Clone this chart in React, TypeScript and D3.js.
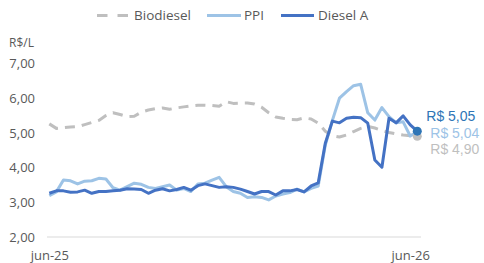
import React, { useEffect, useRef } from "react";
import * as d3 from "d3";

// weekly observations, jun-25 .. jun-26
const startDate = new Date(2025, 5, 13);
const weeks: Date[] = d3.range(53).map((i) => d3.timeDay.offset(startDate, 7 * i));

const biodiesel = [
  5.26, 5.13, 5.15, 5.17, 5.18, 5.24, 5.3, 5.36, 5.5, 5.58, 5.53, 5.47, 5.48, 5.6, 5.66, 5.7, 5.72, 5.68,
  5.72, 5.75, 5.78, 5.8, 5.8, 5.79, 5.77, 5.9, 5.85, 5.86, 5.86, 5.83, 5.74, 5.58, 5.46, 5.42, 5.39, 5.38,
  5.43, 5.4, 5.28, 5.05, 4.92, 4.88, 4.94, 5.04, 5.13, 5.19, 5.14, 5.07, 5.01, 4.97, 4.94, 4.92, 4.9,
];
const ppi = [
  3.19, 3.3, 3.64, 3.62, 3.53, 3.61, 3.62, 3.69, 3.67, 3.42, 3.35, 3.45, 3.55, 3.52, 3.43, 3.4, 3.45, 3.5,
  3.35, 3.4, 3.31, 3.53, 3.55, 3.64, 3.72, 3.45, 3.31, 3.26, 3.14, 3.16, 3.14, 3.07, 3.18, 3.24, 3.28, 3.38,
  3.3, 3.4, 3.47, 4.65, 5.36, 6.0, 6.19, 6.36, 6.4, 5.58, 5.37, 5.73, 5.47, 5.29, 5.32, 4.91, 5.04,
];
const dieselA = [
  3.26, 3.33, 3.33, 3.29, 3.3, 3.35, 3.26, 3.31, 3.31, 3.33, 3.35, 3.39, 3.38, 3.37, 3.26, 3.35, 3.39, 3.33,
  3.37, 3.43, 3.35, 3.48, 3.53, 3.48, 3.43, 3.45, 3.43, 3.38, 3.31, 3.24, 3.31, 3.31, 3.21, 3.33, 3.33, 3.37,
  3.3, 3.47, 3.56, 4.7, 5.34, 5.29, 5.42, 5.45, 5.44, 5.28, 4.22, 4.01, 5.42, 5.29, 5.49, 5.23, 5.05,
];
const yTicks = [2, 3, 4, 5, 6, 7];
const monthsPt = ["jan", "fev", "mar", "abr", "mai", "jun", "jul", "ago", "set", "out", "nov", "dez"];

const series = [
  { name: "Biodiesel", values: biodiesel, color: "#BFBFBF", label: "#BFBFBF", dash: "10,7", dot: true, lx: 13, ly: 14 },
  { name: "PPI", values: ppi, color: "#9DC3E6", label: "#9DC3E6", dash: null, dot: false, lx: 13, ly: 2.5 },
  { name: "Diesel A", values: dieselA, color: "#4472C4", label: "#2E75B6", dash: null, dot: true, lx: 9, ly: -13.5 },
];

const W = 484;
const H = 263;
const FONT = "'Open Sans', sans-serif";
const LABEL_FONT = "'Liberation Sans', Arial, sans-serif";
const TEXT = "#595959";

const fmtBR = (v: number) => "R$ " + v.toFixed(2).replace(".", ",");

export default function App() {
  const svgRef = useRef<SVGSVGElement>(null);

  useEffect(() => {
    if (!svgRef.current) return;
    const svg = d3.select(svgRef.current);
    svg.selectAll("*").remove();

    const x = d3.scalePoint<Date>().domain(weeks).range([49.3, 417.3]);
    const y = d3.scaleLinear().domain([2, 7]).range([237, 63.5]);

    // baseline
    svg.append("line")
      .attr("x1", 47).attr("x2", 421)
      .attr("y1", y(2)).attr("y2", y(2))
      .attr("stroke", "#D9D9D9").attr("stroke-width", 1);

    // y axis labels
    svg.append("g")
      .attr("transform", "translate(35,0)")
      .call(d3.axisLeft(y).tickValues(yTicks).tickSize(0).tickPadding(0)
        .tickFormat((d) => (d as number).toFixed(2).replace(".", ",")))
      .call((g) => g.select(".domain").remove())
      .call((g) => g.selectAll(".tick text")
        .attr("fill", TEXT).style("font-size", "13px").style("font-family", FONT));

    // x axis labels: first week of each June
    const xTicks = weeks.filter((d, i) => d.getMonth() === 5 && (i === 0 || weeks[i - 1].getMonth() !== 5));
    svg.append("g")
      .attr("transform", `translate(0,${y(2)})`)
      .call(d3.axisBottom(x).tickValues(xTicks).tickSize(0).tickPadding(14)
        .tickFormat((d) => `${monthsPt[d.getMonth()]}-${String(d.getFullYear()).slice(2)}`))
      .call((g) => g.select(".domain").remove())
      .call((g) => g.selectAll(".tick text")
        .attr("fill", TEXT).style("font-size", "13px").style("font-family", FONT));

    // unit
    svg.append("text")
      .attr("x", 9).attr("y", 47)
      .attr("fill", TEXT).style("font-size", "12px").style("font-family", FONT)
      .text("R$/L");

    const line = d3.line<number>()
      .x((_, i) => x(weeks[i]) ?? 0)
      .y((d) => y(d));

    series.forEach((s) => {
      const p = svg.append("path")
        .datum(s.values)
        .attr("d", line)
        .attr("fill", "none")
        .attr("stroke", s.color)
        .attr("stroke-width", 3)
        .attr("stroke-linejoin", "round");
      if (s.dash) p.attr("stroke-dasharray", s.dash);
    });

    // end dots + labels
    const last = weeks.length - 1;
    series.forEach((s) => {
      const v = s.values[last];
      const cx = x(weeks[last]) ?? 0;
      if (s.dot) {
        svg.append("circle")
          .attr("cx", cx).attr("cy", y(v)).attr("r", 4.5)
          .attr("fill", s.name === "Diesel A" ? "#2E75B6" : s.color);
      }
      svg.append("text")
        .attr("x", cx + s.lx).attr("y", y(v) + s.ly)
        .attr("dominant-baseline", "middle")
        .attr("fill", s.label)
        .style("font-size", "14px").style("font-family", LABEL_FONT)
        .text(fmtBR(v));
    });

    // legend
    const legendItems = [
      { s: series[0], x0: 97, x1: 128, tx: 134 },
      { s: series[1], x0: 207, x1: 241, tx: 244 },
      { s: series[2], x0: 281, x1: 314, tx: 318 },
    ];
    const lg = svg.append("g");
    legendItems.forEach((it) => {
      const l = lg.append("line")
        .attr("x1", it.x0).attr("x2", it.x1).attr("y1", 15.5).attr("y2", 15.5)
        .attr("stroke", it.s.color).attr("stroke-width", 3);
      if (it.s.dash) l.attr("stroke-dasharray", "10.5,10");
      lg.append("text")
        .attr("x", it.tx).attr("y", 16)
        .attr("dominant-baseline", "middle")
        .attr("fill", TEXT).style("font-size", "13.5px").style("font-family", FONT)
        .text(it.s.name);
    });
  }, []);

  return (
    <svg
      ref={svgRef}
      width={W}
      height={H}
      style={{ position: "absolute", left: 0, top: 0, background: "#fff" }}
    />
  );
}
